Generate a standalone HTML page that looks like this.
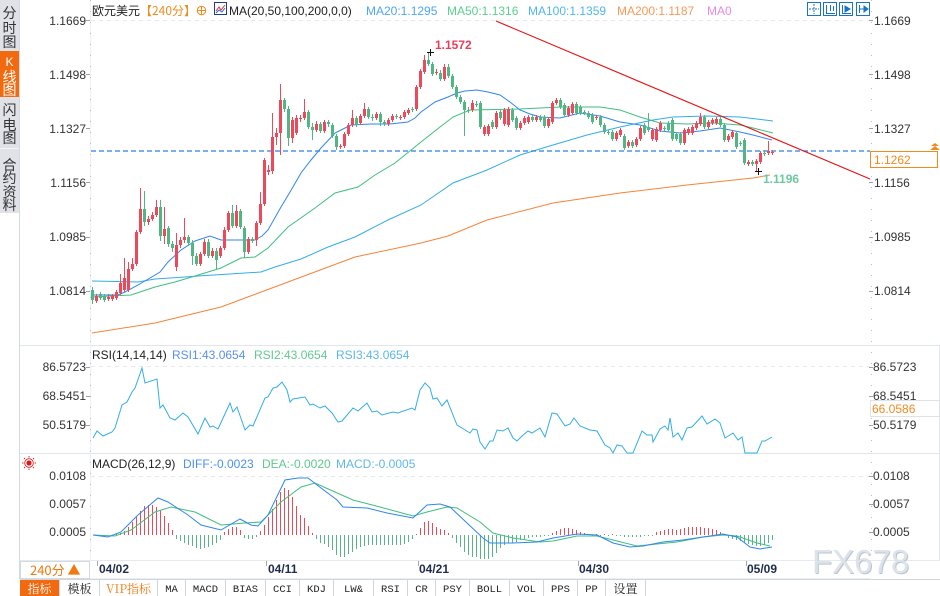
<!DOCTYPE html>
<html><head><meta charset="utf-8">
<style>
html,body{margin:0;padding:0;background:#fff;width:940px;height:596px;overflow:hidden;}
svg{display:block;}
text{font-family:"Liberation Sans","Noto Sans CJK SC",sans-serif;}
.cj{font-family:"Noto Sans CJK SC","Liberation Sans",sans-serif;}
.tb{font-family:"Liberation Mono","Noto Serif CJK SC",monospace;font-size:10.5px;fill:#222;}
.tbc{font-family:"Noto Serif CJK SC","Liberation Serif",serif;font-size:12px;fill:#222;}
</style></head><body>
<svg width="940" height="596" viewBox="0 0 940 596" xmlns="http://www.w3.org/2000/svg">
<rect width="940" height="596" fill="#fff"/>

<!-- Sidebar -->
<rect x="0" y="0" width="19" height="213" fill="#e1e1e8"/>
<rect x="0" y="51" width="19" height="46" fill="#f26a10"/>
<rect x="0" y="148" width="19" height="1" fill="#f5f5f8"/>
<line x1="19.5" y1="0" x2="19.5" y2="579" stroke="#d3d9e0"/>
<g class="cj" font-size="14" text-anchor="middle" fill="#333">
<text x="9.5" y="18">分</text><text x="9.5" y="33">时</text><text x="9.5" y="47">图</text>
<text x="9.5" y="66" fill="#fff" font-size="12" font-family="Liberation Serif">K</text><text x="9.5" y="82" fill="#fff">线</text><text x="9.5" y="95" fill="#fff">图</text>
<text x="9.5" y="115">闪</text><text x="9.5" y="130">电</text><text x="9.5" y="143">图</text>
<text x="9.5" y="170">合</text><text x="9.5" y="183">约</text><text x="9.5" y="197">资</text><text x="9.5" y="210">料</text>
</g>

<!-- Panel separators -->
<line x1="20" y1="345.5" x2="940" y2="345.5" stroke="#dfe6ec"/>
<line x1="20" y1="453.5" x2="940" y2="453.5" stroke="#dfe6ec"/>
<line x1="20" y1="560.5" x2="940" y2="560.5" stroke="#e6eaee"/>
<line x1="90.5" y1="0" x2="90.5" y2="560" stroke="#eef1f4"/>
<line x1="90.5" y1="0" x2="90.5" y2="560" stroke="#b9bfc7" stroke-dasharray="1,10"/>
<line x1="871.5" y1="0" x2="871.5" y2="560" stroke="#b9bfc7" stroke-dasharray="1,10"/>
<line x1="939.5" y1="346" x2="939.5" y2="560" stroke="#e3e8ed"/>

<!-- grid dashed -->
<line x1="91" y1="20.5" x2="870" y2="20.5" stroke="#e6e9ee" stroke-dasharray="4,4"/>
<line x1="91" y1="366.5" x2="870" y2="366.5" stroke="#e6e9ee" stroke-dasharray="4,4"/>
<line x1="91" y1="476.5" x2="870" y2="476.5" stroke="#e6e9ee" stroke-dasharray="4,4"/>

<!-- Header -->
<g font-size="12">
<text x="92" y="15" fill="#222" class="cj">欧元美元</text>
<text x="140" y="15" fill="#f08a1c" class="cj">【240分】</text>
<circle cx="201.5" cy="10.5" r="4.2" fill="none" stroke="#f08a1c"/>
<line x1="197" y1="10.5" x2="206" y2="10.5" stroke="#f08a1c"/>
<line x1="201.5" y1="6" x2="201.5" y2="15" stroke="#f08a1c"/>
<rect x="214.5" y="2.5" width="12" height="12" fill="#fff" stroke="#1c3c8c"/>
<polyline points="216,11 219,7 221,10 225,5" fill="none" stroke="#e03030"/>
<polyline points="216,13 219,10 222,12 225,8" fill="none" stroke="#2a6ad8"/>
<text x="229" y="15" fill="#222">MA(20,50,100,200,0,0)</text>
<text x="366" y="15" fill="#4ea6f2">MA20:1.1295</text>
<text x="447" y="15" fill="#5ccf8f">MA50:1.1316</text>
<text x="528" y="15" fill="#4fb8ee">MA100:1.1359</text>
<text x="617" y="15" fill="#f7995a">MA200:1.1187</text>
<text x="707" y="15" fill="#e88ae0">MA0</text>
</g>
<!-- top right icons -->
<g fill="none" stroke="#1a73c8">
<rect x="807.5" y="2.5" width="13" height="13"/>
<rect x="823.5" y="2.5" width="13" height="13"/>
<rect x="839.5" y="2.5" width="13" height="13"/>
<rect x="856.5" y="2.5" width="13" height="13"/>
<line x1="814" y1="4" x2="814" y2="14" stroke-dasharray="2,1"/>
<line x1="809" y1="9" x2="819" y2="9" stroke-dasharray="2,1"/>
<line x1="826.5" y1="5" x2="826.5" y2="13"/><line x1="826" y1="13.5" x2="835" y2="13.5"/>
<line x1="830.5" y1="5" x2="830.5" y2="11"/><line x1="833.5" y1="6" x2="833.5" y2="11"/>
<line x1="842.5" y1="5" x2="842.5" y2="13"/><line x1="842" y1="13.5" x2="851" y2="13.5"/>
<polygon points="845,6 850,9 845,12" fill="#1a73c8"/>
<line x1="859.5" y1="5" x2="859.5" y2="13"/><line x1="860" y1="9" x2="866" y2="9"/>
<polygon points="864,6 868,9 864,12" fill="#1a73c8"/>
</g>

<!-- Left axis labels -->
<g font-size="12" fill="#333" text-anchor="end">
<text x="86" y="25">1.1669</text>
<text x="86" y="79">1.1498</text>
<text x="86" y="133">1.1327</text>
<text x="86" y="187">1.1156</text>
<text x="86" y="241">1.0985</text>
<text x="86" y="295">1.0814</text>
<text x="86" y="371">86.5723</text>
<text x="86" y="400">68.5451</text>
<text x="86" y="429">50.5179</text>
<text x="86" y="480">0.0108</text>
<text x="86" y="508">0.0057</text>
<text x="86" y="536">0.0005</text>
</g>
<g stroke="#9aa3ad">
<line x1="86" y1="20.5" x2="90" y2="20.5"/><line x1="86" y1="74.5" x2="90" y2="74.5"/><line x1="86" y1="128.5" x2="90" y2="128.5"/><line x1="86" y1="182.5" x2="90" y2="182.5"/><line x1="86" y1="237.5" x2="90" y2="237.5"/><line x1="86" y1="291.5" x2="90" y2="291.5"/>
<line x1="86" y1="367.5" x2="90" y2="367.5"/><line x1="86" y1="396.5" x2="90" y2="396.5"/><line x1="86" y1="425.5" x2="90" y2="425.5"/>
<line x1="869" y1="20.5" x2="873" y2="20.5"/><line x1="869" y1="74.5" x2="873" y2="74.5"/><line x1="869" y1="128.5" x2="873" y2="128.5"/><line x1="869" y1="182.5" x2="873" y2="182.5"/><line x1="869" y1="237.5" x2="873" y2="237.5"/><line x1="869" y1="291.5" x2="873" y2="291.5"/>
<line x1="869" y1="367.5" x2="873" y2="367.5"/><line x1="869" y1="396.5" x2="873" y2="396.5"/><line x1="869" y1="425.5" x2="873" y2="425.5"/>
<line x1="869" y1="476.5" x2="873" y2="476.5"/><line x1="869" y1="504.5" x2="873" y2="504.5"/><line x1="869" y1="532.5" x2="873" y2="532.5"/>
</g>
<!-- Right axis labels -->
<g font-size="12" fill="#333">
<text x="874" y="25">1.1669</text>
<text x="874" y="79">1.1498</text>
<text x="874" y="133">1.1327</text>
<text x="874" y="187">1.1156</text>
<text x="874" y="241">1.0985</text>
<text x="874" y="295">1.0814</text>
<text x="873" y="371">86.5723</text>
<text x="873" y="400">68.5451</text>
<text x="873" y="429">50.5179</text>
<text x="873" y="480">0.0108</text>
<text x="873" y="508">0.0057</text>
<text x="873" y="536">0.0005</text>
</g>
<rect x="870.5" y="400.5" width="69" height="16" fill="#fff" stroke="#dfe3e8"/>
<text x="872" y="413" font-size="12" fill="#f28a1e">66.0586</text>

<!-- MA lines -->
<g fill="none" stroke-width="1">
<polyline stroke="#f7843a" points="92,333 155,323 221,307 288,282 355,257 421,243 448,236 487,220 553,203 620,193 687,185 753,178 770,175"/>
<polyline stroke="#34aee6" points="92,281 138,282 155,279 185,277 198,276 261,272 275,267 301,259 328,247 355,237 388,220 421,205 453,183 487,170 520,155 553,145 587,135 620,127 653,120 673,117 707,116 740,117 773,121"/>
<polyline stroke="#3fbf7f" points="92,297 131,295 155,287 175,282 195,276 221,268 241,258 255,257 268,248 288,227 315,208 335,193 358,187 375,175 395,163 421,142 440,127 453,117 470,110 520,109 560,107 600,107 620,110 640,117 660,123 687,124 713,123 740,125 753,128 773,133"/>
<polyline stroke="#2f86ee" points="92,295 118,295 125,292 138,285 150,278 160,272 168,262 181,250 195,241 210,236 221,240 255,240 262,236 268,230 281,207 290,192 301,173 311,160 321,148 335,133 345,128 351,125 371,124 390,124 408,122 415,118 421,112 435,102 448,97 457,93 465,91 477,90 488,92 500,95 510,102 520,110 530,114 540,117 560,118 580,113 600,116 620,122 640,125 660,131 680,133 700,131 720,128 740,132 753,135 772,140"/>
</g>

<!-- dashed price line -->
<line x1="91" y1="151" x2="870" y2="151" stroke="#2f7fe6" stroke-width="1.2" stroke-dasharray="5,3"/>

<!-- Candles wicks -->
<path fill="none" stroke="#ec4a5a" stroke-width="1" d="M96.5 294V303M108.5 294V301M112.5 294V301M116.5 290V300M120.5 274V295M124.5 258V292M128.5 262V292M132.5 258V271M136.5 230V266M140.5 188V234M148.5 216V225M152.5 212V221M156.5 200V217M164.5 207V244M176.5 233V271M180.5 237V248M184.5 218V243M200.5 252V266M204.5 239V256M212.5 248V258M220.5 246V258M224.5 227V250M228.5 211V232M236.5 205V228M248.5 237V254M256.5 221V246M260.5 192V225M264.5 158V206M268.5 165V175M272.5 113V174M276.5 128V145M280.5 84V155M292.5 117V143M296.5 115V135M300.5 115V122M304.5 99V120M316.5 121V132M324.5 120V133M340.5 144V149M344.5 132V148M348.5 123V136M352.5 110V127M360.5 114V125M364.5 103V118M376.5 112V120M388.5 118V126M392.5 114V122M400.5 115V120M404.5 110V119M408.5 108V115M416.5 85V111M420.5 69V89M424.5 55V74M436.5 69V75M444.5 64V81M472.5 100V112M484.5 125V136M488.5 124V136M496.5 111V129M504.5 108V126M508.5 107V127M520.5 121V130M524.5 116V125M528.5 115V124M536.5 115V122M548.5 117V128M552.5 101V124M556.5 98V105M568.5 106V117M572.5 102V115M596.5 115V120M616.5 131V141M620.5 128V137M628.5 140V148M636.5 137V147M640.5 126V141M652.5 128V141M656.5 127V142M660.5 121V132M684.5 128V145M688.5 127V135M692.5 125V135M696.5 121V130M700.5 113V126M708.5 120V129M712.5 118V125M716.5 117V125M728.5 134V142M732.5 130V139M748.5 160V166M756.5 159V171M760.5 151V164M768.5 141V155M772.5 150V155"/>
<path fill="none" stroke="#52b584" stroke-width="1" d="M92.5 287V304M100.5 292V300M104.5 294V302M144.5 191V226M160.5 200V241M168.5 226V247M172.5 241V252M188.5 235V246M192.5 240V265M196.5 253V266M208.5 239V258M216.5 248V269M232.5 205V228M240.5 209V229M244.5 226V258M252.5 237V243M284.5 98V112M288.5 106V146M308.5 110V129M312.5 123V140M320.5 122V133M328.5 120V127M332.5 123V138M336.5 134V150M356.5 116V127M368.5 107V119M372.5 114V121M380.5 112V126M384.5 120V126M396.5 114V119M412.5 107V112M428.5 53V66M432.5 62V76M440.5 70V81M448.5 64V78M452.5 74V89M456.5 85V99M460.5 95V104M464.5 100V136M468.5 107V113M476.5 101V107M480.5 101V129M492.5 120V129M500.5 110V120M512.5 108V122M516.5 116V130M532.5 115V122M540.5 115V122M544.5 115V128M560.5 98V109M564.5 103V117M576.5 102V115M580.5 105V115M584.5 110V115M588.5 111V119M592.5 113V124M600.5 115V127M604.5 123V134M608.5 130V135M612.5 130V141M624.5 134V150M632.5 140V148M644.5 123V135M648.5 113V132M664.5 126V131M668.5 121V132M672.5 118V141M676.5 132V141M680.5 132V145M704.5 115V129M720.5 117V127M724.5 123V142M736.5 131V149M740.5 141V146M744.5 138V165M752.5 160V166M764.5 150V156"/>
<!-- Candle bodies -->
<path fill="#ec4a5a" d="M95 296h3v5h-3zM107 297h3v2h-3zM111 296h3v3h-3zM115 292h3v6h-3zM119 283h3v10h-3zM123 278h3v12h-3zM127 269h3v21h-3zM131 264h3v5h-3zM135 232h3v32h-3zM139 209h3v23h-3zM147 219h3v3h-3zM151 215h3v4h-3zM155 207h3v8h-3zM163 229h3v7h-3zM175 245h3v22h-3zM179 240h3v5h-3zM183 237h3v3h-3zM199 254h3v10h-3zM203 242h3v12h-3zM211 251h3v5h-3zM219 248h3v8h-3zM223 230h3v18h-3zM227 213h3v17h-3zM235 211h3v15h-3zM247 239h3v13h-3zM255 223h3v17h-3zM259 204h3v19h-3zM263 160h3v44h-3zM267 170h3v2h-3zM271 137h3v34h-3zM275 133h3v4h-3zM279 100h3v33h-3zM291 120h3v18h-3zM295 118h3v15h-3zM299 118h3v1h-3zM303 112h3v6h-3zM315 124h3v6h-3zM323 122h3v9h-3zM339 146h3v1h-3zM343 134h3v12h-3zM347 125h3v9h-3zM351 118h3v7h-3zM359 116h3v7h-3zM363 109h3v7h-3zM375 114h3v4h-3zM387 120h3v4h-3zM391 116h3v4h-3zM399 117h3v1h-3zM403 112h3v5h-3zM407 110h3v3h-3zM415 87h3v22h-3zM419 71h3v16h-3zM423 60h3v12h-3zM435 72h3v1h-3zM443 67h3v12h-3zM471 103h3v7h-3zM483 127h3v7h-3zM487 126h3v8h-3zM495 113h3v14h-3zM503 110h3v14h-3zM507 109h3v16h-3zM519 123h3v5h-3zM523 118h3v5h-3zM527 117h3v5h-3zM535 117h3v3h-3zM547 119h3v7h-3zM551 103h3v19h-3zM555 100h3v3h-3zM567 108h3v7h-3zM571 104h3v9h-3zM595 117h3v1h-3zM615 133h3v6h-3zM619 130h3v5h-3zM627 142h3v4h-3zM635 139h3v6h-3zM639 128h3v11h-3zM651 130h3v9h-3zM655 129h3v11h-3zM659 123h3v7h-3zM683 130h3v13h-3zM687 129h3v4h-3zM691 127h3v6h-3zM695 123h3v5h-3zM699 117h3v7h-3zM707 122h3v5h-3zM711 120h3v3h-3zM715 119h3v4h-3zM727 136h3v4h-3zM731 132h3v5h-3zM747 162h3v2h-3zM755 161h3v3h-3zM759 153h3v9h-3zM767 151h3v2h-3zM771 152h3v1h-3z"/>
<path fill="#52b584" d="M91 290h3v10h-3zM99 294h3v4h-3zM103 296h3v4h-3zM143 209h3v13h-3zM159 207h3v29h-3zM167 228h3v16h-3zM171 244h3v4h-3zM187 237h3v6h-3zM191 243h3v13h-3zM195 256h3v8h-3zM207 242h3v14h-3zM215 251h3v9h-3zM231 213h3v13h-3zM239 211h3v16h-3zM243 228h3v24h-3zM251 239h3v2h-3zM283 100h3v9h-3zM287 109h3v29h-3zM307 112h3v15h-3zM311 127h3v3h-3zM319 124h3v7h-3zM327 122h3v2h-3zM331 125h3v11h-3zM335 136h3v11h-3zM355 118h3v7h-3zM367 109h3v8h-3zM371 117h3v1h-3zM379 114h3v8h-3zM383 122h3v2h-3zM395 116h3v1h-3zM411 109h3v1h-3zM427 60h3v4h-3zM431 64h3v10h-3zM439 73h3v6h-3zM447 67h3v9h-3zM451 76h3v11h-3zM455 87h3v10h-3zM459 97h3v5h-3zM463 102h3v8h-3zM467 110h3v1h-3zM475 104h3v1h-3zM479 103h3v24h-3zM491 122h3v5h-3zM499 112h3v6h-3zM511 110h3v10h-3zM515 118h3v10h-3zM531 117h3v3h-3zM539 117h3v3h-3zM543 117h3v9h-3zM559 100h3v7h-3zM563 105h3v10h-3zM575 104h3v9h-3zM579 107h3v6h-3zM583 112h3v1h-3zM587 113h3v4h-3zM591 115h3v7h-3zM599 117h3v8h-3zM603 125h3v7h-3zM607 132h3v1h-3zM611 132h3v7h-3zM623 136h3v12h-3zM631 142h3v4h-3zM643 125h3v8h-3zM647 127h3v3h-3zM663 128h3v1h-3zM667 123h3v7h-3zM671 120h3v19h-3zM675 134h3v5h-3zM679 134h3v9h-3zM703 117h3v10h-3zM719 119h3v6h-3zM723 125h3v15h-3zM735 133h3v14h-3zM739 143h3v1h-3zM743 140h3v23h-3zM751 162h3v2h-3zM763 153h3v1h-3z"/>

<!-- trend line -->
<line x1="496" y1="21" x2="870" y2="179" stroke="#e81010" stroke-width="1.1"/>

<!-- markers -->
<g stroke="#111" stroke-width="1">
<line x1="427" y1="52.5" x2="434" y2="52.5"/><line x1="430.5" y1="49" x2="430.5" y2="56"/>
<line x1="755" y1="171.5" x2="762" y2="171.5"/><line x1="758.5" y1="168" x2="758.5" y2="175"/>
</g>
<text x="435" y="49" font-size="12" font-weight="bold" fill="#e8405a">1.1572</text>
<text x="763" y="183" font-size="12" font-weight="bold" fill="#6cc9a0">1.1196</text>

<!-- current price box -->
<rect x="870.5" y="151.5" width="67" height="16" fill="#fff" stroke="#f28a1e"/>
<text x="874" y="164" font-size="12" fill="#f28a1e">1.1262</text>
<polygon points="930,150 935,146 940,150" fill="#f28a1e"/>
<polygon points="931,146 935,143 939,146" fill="#f28a1e"/>

<!-- RSI -->
<g font-size="12">
<text x="92" y="359" fill="#222">RSI(14,14,14)</text>
<text x="172" y="359" fill="#5b8ff0">RSI1:43.0654</text>
<text x="254" y="359" fill="#62c98f">RSI2:43.0654</text>
<text x="336" y="359" fill="#5cb6ea">RSI3:43.0654</text>
</g>
<polyline fill="none" stroke="#33aee6" stroke-width="1" points="93,438 97,431 103,436 112,432 115,428 122,405 127,402 132,392 135,388 142,368 145,383 157,379 160,408 163,405 170,418 175,420 183,413 188,417 198,434 205,418 210,427 213,426 218,429 230,403 233,412 237,407 245,430 250,425 253,426 265,398 268,397 273,388 277,387 282,382 287,390 290,402 293,399 305,397 310,405 313,404 320,408 325,406 332,413 338,422 342,421 353,408 358,411 367,403 372,412 377,411 382,415 393,412 398,413 412,408 415,410 420,390 425,383 430,388 433,399 437,398 442,406 447,400 457,425 462,428 470,433 473,429 477,430 480,442 485,449 490,441 493,441 497,430 503,431 508,428 513,438 517,441 522,436 528,431 532,433 540,428 545,437 552,413 557,414 565,426 570,424 574,418 580,426 590,430 597,431 605,445 610,448 613,453 617,445 622,446 627,453 633,453 642,431 647,435 652,435 653,442 660,429 665,426 668,430 670,418 673,437 678,433 682,440 687,428 692,427 702,416 707,424 715,419 720,423 725,438 733,433 738,440 742,437 745,453 757,453 762,441 765,441 772,437"/>

<!-- MACD -->
<g>
<circle cx="29" cy="463" r="2.6" fill="#e01818"/>
<circle cx="29" cy="463" r="4.3" fill="none" stroke="#e01818" stroke-width="0.8"/>
<g stroke="#e01818" stroke-width="0.9">
<line x1="29" y1="456" x2="29" y2="457.5"/><line x1="29" y1="468.5" x2="29" y2="470"/>
<line x1="22" y1="463" x2="23.5" y2="463"/><line x1="34.5" y1="463" x2="36" y2="463"/>
<line x1="24" y1="458" x2="25" y2="459"/><line x1="33" y1="467" x2="34" y2="468"/>
<line x1="34" y1="458" x2="33" y2="459"/><line x1="25" y1="467" x2="24" y2="468"/>
</g>
</g>
<g font-size="12">
<text x="92" y="468" fill="#222">MACD(26,12,9)</text>
<text x="183" y="468" fill="#4b8ff0">DIFF:-0.0023</text>
<text x="262" y="468" fill="#5ec890">DEA:-0.0020</text>
<text x="336" y="468" fill="#5fb8ec">MACD:-0.0005</text>
</g>
<path fill="none" stroke="#e84a5a" stroke-width="1" d="M116.5 535V534M120.5 535V533M124.5 535V531M128.5 535V527M132.5 535V522M136.5 535V517M140.5 535V511M144.5 535V506M148.5 535V505M152.5 535V505M156.5 535V507M160.5 535V510M164.5 535V516M168.5 535V523M172.5 535V530M224.5 535V532M228.5 535V529M232.5 535V527M236.5 535V527M240.5 535V530M260.5 535V531M264.5 535V525M268.5 535V517M272.5 535V509M276.5 535V500M280.5 535V492M284.5 535V488M288.5 535V490M292.5 535V497M296.5 535V506M300.5 535V515M304.5 535V518M308.5 535V526M312.5 535V533M416.5 535V534M420.5 535V528M424.5 535V522M428.5 535V521M432.5 535V523M436.5 535V527M440.5 535V529M444.5 535V530M448.5 535V533M552.5 535V533M556.5 535V531M560.5 535V529M564.5 535V528M568.5 535V528M572.5 535V529M576.5 535V530M580.5 535V532M584.5 535V533M588.5 535V534M596.5 535V534M604.5 535V534M612.5 535V534M656.5 535V532M660.5 535V531M664.5 535V530M668.5 535V529M672.5 535V529M676.5 535V530M680.5 535V529M684.5 535V528M688.5 535V527M692.5 535V527M696.5 535V527M700.5 535V527M704.5 535V528M708.5 535V528M712.5 535V529M716.5 535V530M720.5 535V532M724.5 535V534"/>
<path fill="none" stroke="#55b585" stroke-width="1" d="M176.5 535V539M180.5 535V541M184.5 535V543M188.5 535V545M192.5 535V546M196.5 535V548M200.5 535V549M204.5 535V548M208.5 535V547M212.5 535V545M216.5 535V543M220.5 535V540M244.5 535V538M248.5 535V539M252.5 535V539M256.5 535V537M316.5 535V539M320.5 535V543M324.5 535V544M328.5 535V547M332.5 535V550M336.5 535V555M340.5 535V557M344.5 535V557M348.5 535V554M352.5 535V552M356.5 535V549M360.5 535V547M364.5 535V546M368.5 535V545M372.5 535V545M376.5 535V545M380.5 535V545M384.5 535V545M388.5 535V545M392.5 535V545M396.5 535V545M400.5 535V545M404.5 535V544M408.5 535V542M412.5 535V539M452.5 535V538M456.5 535V543M460.5 535V547M464.5 535V552M468.5 535V555M472.5 535V557M476.5 535V557M480.5 535V559M484.5 535V559M488.5 535V559M492.5 535V557M496.5 535V553M500.5 535V548M504.5 535V545M508.5 535V543M512.5 535V543M516.5 535V542M520.5 535V540M524.5 535V539M528.5 535V538M532.5 535V537M536.5 535V537M540.5 535V537M544.5 535V536M548.5 535V536M592.5 535V536M600.5 535V536M608.5 535V536M616.5 535V536M620.5 535V536M624.5 535V537M628.5 535V537M632.5 535V537M636.5 535V537M640.5 535V537M644.5 535V536M648.5 535V536M652.5 535V536M728.5 535V538M732.5 535V539M736.5 535V540M740.5 535V541M744.5 535V543M748.5 535V544M752.5 535V545M756.5 535V546M760.5 535V546M764.5 535V545M768.5 535V543M772.5 535V540"/>
<polyline fill="none" stroke="#3fbf7f" stroke-width="1" points="93,535 115,536 131,530 155,512 171,507 195,512 221,525 245,523 261,522 281,502 301,487 315,483 335,492 353,500 380,507 413,516 427,512 447,507 457,508 480,522 493,533 513,538 540,542 553,541 577,536 597,536 617,541 637,546 657,544 677,542 703,537 723,535 737,536 757,543 770,546"/>
<polyline fill="none" stroke="#2f86ee" stroke-width="1" points="93,535 108,537 121,532 138,515 158,498 168,502 188,515 201,525 221,530 240,519 251,525 258,526 268,515 285,480 298,478 308,478 321,488 337,500 343,507 367,508 387,513 413,518 427,505 440,504 450,507 467,523 483,538 490,543 513,543 537,542 553,538 577,534 597,535 613,543 630,547 643,546 663,542 683,540 703,537 723,534 737,537 750,547 760,549 772,547"/>

<!-- Date axis -->
<rect x="20.5" y="561.5" width="69" height="17" fill="#fff" stroke="#d3d9e0"/>
<text x="30" y="575" font-size="13" fill="#f07a10" class="cj">240分 ▲</text>
<g stroke="#a0a8b2">
<line x1="97.5" y1="561" x2="97.5" y2="566"/><line x1="266.5" y1="561" x2="266.5" y2="566"/><line x1="418.5" y1="561" x2="418.5" y2="566"/><line x1="578.5" y1="561" x2="578.5" y2="566"/><line x1="746.5" y1="561" x2="746.5" y2="566"/>
</g>
<g font-size="12" font-weight="bold" fill="#1f2d4a">
<text x="99" y="573">04/02</text>
<text x="268" y="573">04/11</text>
<text x="419" y="573">04/21</text>
<text x="579" y="573">04/30</text>
<text x="747" y="573">05/09</text>
</g>
<line x1="90" y1="578.5" x2="870" y2="578.5" stroke="#eceff2"/>

<!-- watermark -->
<text x="813" y="574" font-size="33" fill="#bcc5cf">FX678</text>
<text x="812" y="573" font-size="33" fill="#dde3ea">FX678</text>

<!-- toolbar -->
<line x1="20" y1="579.5" x2="940" y2="579.5" stroke="#cfd5dc"/>
<rect x="20" y="580" width="39" height="16" fill="#f26a10"/>
<g stroke="#d0d5dc">
<line x1="59.5" y1="580" x2="59.5" y2="596"/><line x1="99.5" y1="580" x2="99.5" y2="596"/><line x1="157.5" y1="580" x2="157.5" y2="596"/><line x1="185.5" y1="580" x2="185.5" y2="596"/><line x1="225.5" y1="580" x2="225.5" y2="596"/><line x1="265.5" y1="580" x2="265.5" y2="596"/><line x1="299.5" y1="580" x2="299.5" y2="596"/><line x1="333.5" y1="580" x2="333.5" y2="596"/><line x1="373.5" y1="580" x2="373.5" y2="596"/><line x1="407.5" y1="580" x2="407.5" y2="596"/><line x1="435.5" y1="580" x2="435.5" y2="596"/><line x1="469.5" y1="580" x2="469.5" y2="596"/><line x1="509.5" y1="580" x2="509.5" y2="596"/><line x1="543.5" y1="580" x2="543.5" y2="596"/><line x1="577.5" y1="580" x2="577.5" y2="596"/><line x1="605.5" y1="580" x2="605.5" y2="596"/><line x1="645.5" y1="580" x2="645.5" y2="596"/>
</g>
<g text-anchor="middle">
<text x="39.5" y="593" class="tbc" style="fill:#fff">指标</text>
<text x="79.5" y="593" class="tbc">模板</text>
<text x="128.5" y="593" class="tbc" style="fill:#f07a10">VIP指标</text>
<text x="171.5" y="592" class="tb">MA</text>
<text x="205.5" y="592" class="tb">MACD</text>
<text x="245.5" y="592" class="tb">BIAS</text>
<text x="282.5" y="592" class="tb">CCI</text>
<text x="316.5" y="592" class="tb">KDJ</text>
<text x="353.5" y="592" class="tb">LW&amp;</text>
<text x="390.5" y="592" class="tb">RSI</text>
<text x="421.5" y="592" class="tb">CR</text>
<text x="452.5" y="592" class="tb">PSY</text>
<text x="489.5" y="592" class="tb">BOLL</text>
<text x="526.5" y="592" class="tb">VOL</text>
<text x="560.5" y="592" class="tb">PPS</text>
<text x="591.5" y="592" class="tb">PP</text>
<text x="625.5" y="593" class="tbc">设置</text>
</g>
</svg>
</body></html>
